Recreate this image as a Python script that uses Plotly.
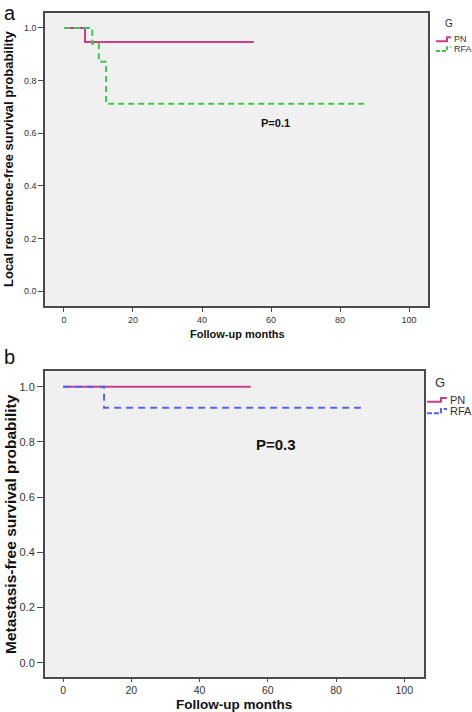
import plotly.graph_objects as go

# Panel a: local recurrence-free survival
a_pn_months = [0, 6.1, 55]
a_pn_surv = [1.0, 0.947, 0.947]
a_rfa_months = [0, 8.2, 10.1, 12.2, 87]
a_rfa_surv = [1.0, 0.94, 0.872, 0.712, 0.712]

# Panel b: metastasis-free survival
b_pn_months = [0, 55]
b_pn_surv = [1.0, 1.0]
b_rfa_months = [0, 12, 87.3]
b_rfa_surv = [1.0, 0.924, 0.924]

x_ticks = [0, 20, 40, 60, 80, 100]
y_ticks = [0.0, 0.2, 0.4, 0.6, 0.8, 1.0]
y_labels = ["0.0", "0.2", "0.4", "0.6", "0.8", "1.0"]
groups = ["PN", "RFA"]

PN_COLOR = "#cc3f88"
GREEN = "#3cc84a"
BLUE = "#5562f5"
FONT = "Liberation Sans, Arial, sans-serif"
W, H = 472, 712

def px(x):
    return x / W

def py(y):
    return 1 - y / H

fig = go.Figure()

fig.add_trace(go.Scatter(x=a_pn_months, y=a_pn_surv, mode="lines", line=dict(shape="hv", color=PN_COLOR, width=2),
                         name=groups[0], xaxis="x", yaxis="y"))
fig.add_trace(go.Scatter(x=a_rfa_months, y=a_rfa_surv, mode="lines", line=dict(shape="hv", color=GREEN, width=2, dash="6px,4px"),
                         name=groups[1], xaxis="x", yaxis="y"))
fig.add_trace(go.Scatter(x=b_pn_months, y=b_pn_surv, mode="lines", line=dict(shape="hv", color=PN_COLOR, width=2),
                         name=groups[0], xaxis="x2", yaxis="y2"))
fig.add_trace(go.Scatter(x=b_rfa_months, y=b_rfa_surv, mode="lines", line=dict(shape="hv", color=BLUE, width=2, dash="7px,5px"),
                         name=groups[1], xaxis="x2", yaxis="y2"))

axis_common = dict(showgrid=False, zeroline=False, showline=True, linecolor="#4a4a4a", linewidth=1.5,
                   mirror=True, ticks="outside", tickcolor="#4a4a4a")

# Manual legend (step-shaped symbols like SPSS)
shapes = []
annotations = []

def ann(text, x, y, size, color="#111111", xanchor="center", textangle=0, xref="paper", yref="paper"):
    return dict(text=text, x=x, y=y, xref=xref, yref=yref, xanchor=xanchor, yanchor="middle",
                showarrow=False, textangle=textangle, font=dict(family=FONT, size=size, color=color))

def legend_block(title_xy, items, font_size, title_size):
    annotations.append(ann(title_xy[2], px(title_xy[0]), py(title_xy[1]), title_size, "#333333"))
    for (x0, xs, x1, ylow, yhigh, color, dash, label) in items:
        path = f"M {px(x0)},{py(ylow)} L {px(xs)},{py(ylow)} L {px(xs)},{py(yhigh)} L {px(x1)},{py(yhigh)}"
        shapes.append(dict(type="path", path=path, xref="paper", yref="paper",
                           line=dict(color=color, width=2, dash=dash)))
        annotations.append(ann(label, px(x1 + 0.5), py((ylow + yhigh) / 2), font_size, "#333333", xanchor="left"))

legend_block((449, 24, "G"),
             [(436, 447, 451, 41.3, 37.3, PN_COLOR, "solid", groups[0]),
              (436, 447, 451, 51.0, 47.3, GREEN, "4px,2px", groups[1])], 9, 10)
legend_block((440, 383, "G"),
             [(427, 441, 447, 401.7, 398.0, PN_COLOR, "solid", groups[0]),
              (427, 441, 447, 413.3, 409.0, BLUE, "5px,2px", groups[1])], 11, 13)

annotations += [
    dict(text="a", x=0.005, y=1.0, xref="paper", yref="paper", xanchor="left", yanchor="top",
         showarrow=False, font=dict(family=FONT, size=20, color="#111111")),
    dict(text="b", x=0.005, y=py(344), xref="paper", yref="paper", xanchor="left", yanchor="top",
         showarrow=False, font=dict(family=FONT, size=20, color="#111111")),
    ann("<b>P=0.1</b>", 61.4, 0.64, 11, xref="x", yref="y"),
    ann("<b>P=0.3</b>", 62.4, 0.79, 15, xref="x2", yref="y2"),
    # axis titles
    ann("<b>Follow-up months</b>", px(237), py(334), 11),
    ann("<b>Follow-up months</b>", px(234), py(704.5), 13.5),
    ann("<b>Local recurrence-free survival probability</b>", px(9), py(159), 13, textangle=-90),
    ann("<b>Metastasis-free survival probability</b>", px(10), py(524), 15.5, textangle=-90),
]

fig.update_layout(
    width=W, height=H,
    margin=dict(l=0, r=0, t=0, b=0),
    paper_bgcolor="white",
    plot_bgcolor="#f0f0f0",
    showlegend=False,
    xaxis=dict(domain=[px(45), px(428)], anchor="y", range=[-5.5, 105.5], tickvals=x_ticks, ticklen=4,
               tickfont=dict(family=FONT, size=9, color="#333333"), **axis_common),
    yaxis=dict(domain=[py(306), py(13)], anchor="x", range=[-0.057, 1.057], tickvals=y_ticks, ticktext=y_labels,
               ticklen=5, tickfont=dict(family=FONT, size=9, color="#333333"), **axis_common),
    xaxis2=dict(domain=[px(44.7), px(424)], anchor="y2", range=[-5.4, 105.8], tickvals=x_ticks, ticklen=3,
                tickfont=dict(family=FONT, size=10.5, color="#333333"), **axis_common),
    yaxis2=dict(domain=[py(677), py(371.3)], anchor="x2", range=[-0.052, 1.056], tickvals=y_ticks, ticktext=y_labels,
                ticklen=6, tickfont=dict(family=FONT, size=11, color="#333333"), **axis_common),
    shapes=shapes,
    annotations=annotations,
)

fig.write_html("out.html", config={"displayModeBar": False},
               post_script="document.body.style.margin='0';document.body.style.overflow='hidden';")
